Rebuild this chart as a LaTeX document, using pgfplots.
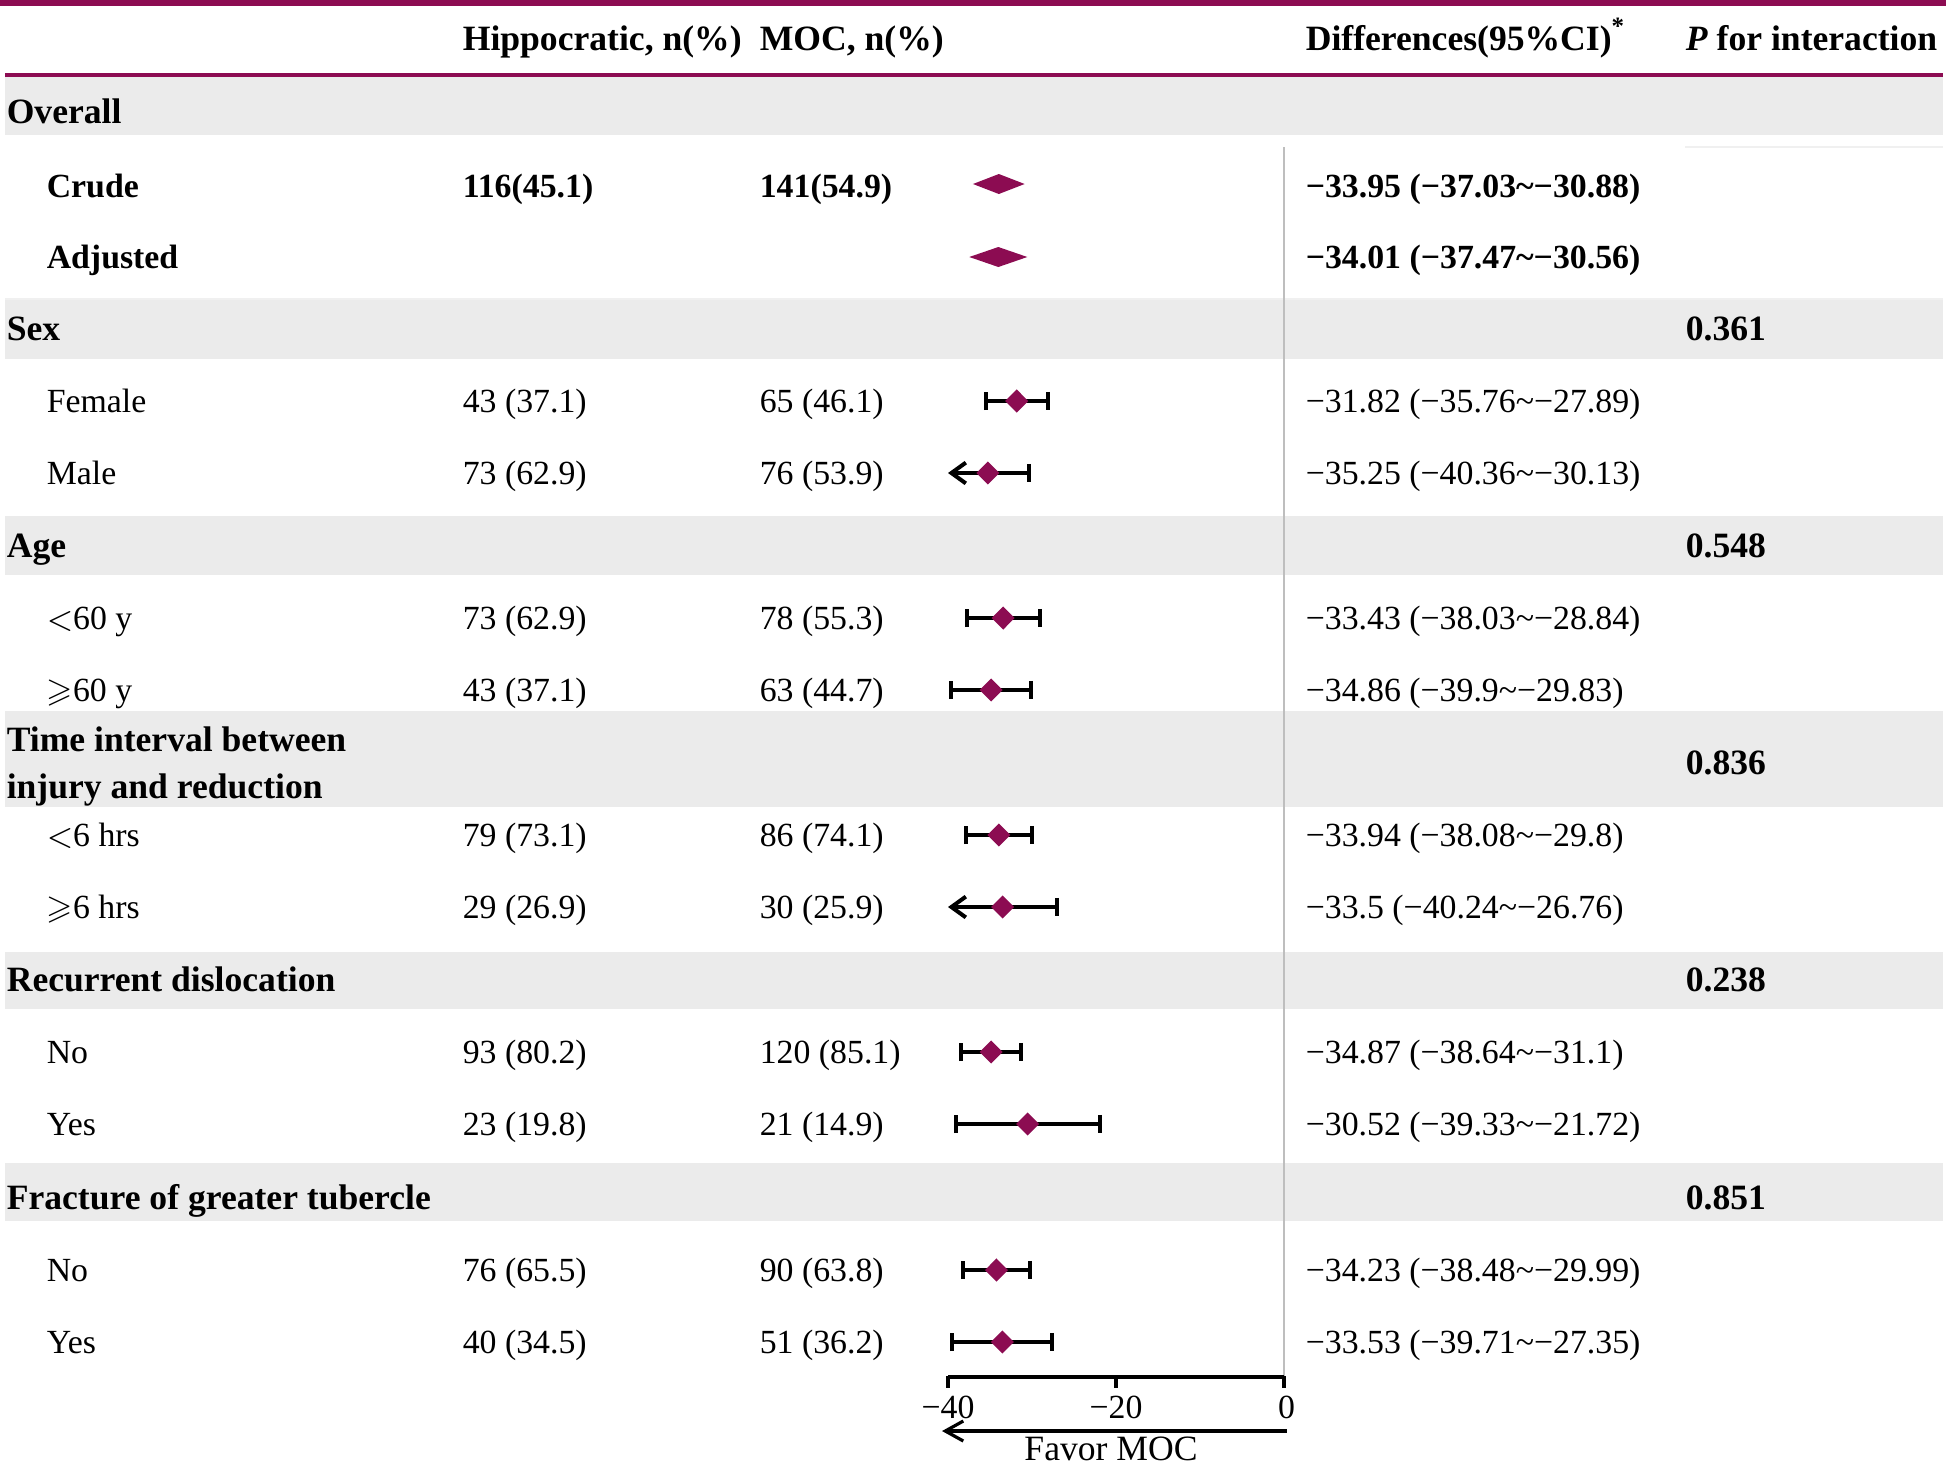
\documentclass[border=0pt]{standalone}
\usepackage{fontspec}
\setmainfont{Liberation Serif}
\usepackage{amssymb}
\usepackage{pgfplots}
\pgfplotsset{compat=1.18}
\usetikzlibrary{arrows.meta}
\definecolor{wine}{RGB}{140,12,82}
\definecolor{band}{RGB}{235,235,235}
\definecolor{vline}{RGB}{190,190,190}
\newcommand{\fs}{\fontsize{8.9}{10.5}\selectfont}
\newcommand{\fr}{\fontsize{8.45}{10}\selectfont}
\newcommand{\ti}{\textasciitilde}
\newcommand{\lsym}{$<$}
\newcommand{\gsym}{$\geqslant$}
\begin{document}
\begin{tikzpicture}[x=0.25pt,y=-0.25pt,every node/.style={font=\fs,inner sep=0pt}]
\useasboundingbox (0,0) rectangle (1946,1468);
% shaded bands
\fill[band] (5,77) rectangle (1943,135);
\fill[band] (5,300) rectangle (1943,359);
\fill[band] (5,516) rectangle (1943,575);
\fill[band] (5,711) rectangle (1943,807);
\fill[band] (5,952) rectangle (1943,1009);
\fill[band] (5,1163) rectangle (1943,1221);
% rules
\fill[wine] (0,0) rectangle (1946,6);
\fill[wine] (5,73) rectangle (1943,77);
\draw[black!6, line width=0.4pt] (1685,147) -- (1943,147);
\draw[black!6, line width=0.4pt] (5,299) -- (1943,299);
% main data axis
\begin{axis}[at={(0,0)}, anchor=north west, scale only axis,
  width=486.5pt, height=367pt,
  xmin=-152.857, xmax=78.810, ymin=-1468, ymax=0,
  axis lines=none, clip=false]
\addplot[vline, line width=0.7pt] coordinates {(0,-147) (0,-1377)};
% scale
\addplot[black, line width=0.8pt] coordinates {(-40,-1377) (0,-1377)};
\addplot[black, line width=0.8pt] coordinates {(-40,-1376) (-40,-1388)};
\addplot[black, line width=0.8pt] coordinates {(-20,-1376) (-20,-1388)};
\addplot[black, line width=0.8pt] coordinates {(0,-1376) (0,-1388)};
\node[anchor=base, font=\fr] at (axis cs:-40,-1418) {−40};
\node[anchor=base, font=\fr] at (axis cs:-20,-1418) {−20};
\node[anchor=base, font=\fr] at (axis cs:0.3,-1418) {0};
% overall diamonds (span the CI)
\addplot[wine, fill=wine, draw=none] coordinates {(-37.03,-184) (-33.95,-174) (-30.88,-184) (-33.95,-194)} -- cycle;
\addplot[wine, fill=wine, draw=none] coordinates {(-37.47,-257) (-34.01,-247) (-30.56,-257) (-34.01,-267)} -- cycle;
% subgroup CIs
\pgfplotsset{ci/.style={black, line width=1pt, arrows={Bar[width=4.6pt]-Bar[width=4.6pt]}},
             cil/.style={black, line width=1pt, arrows={Straight Barb[length=3.6pt,width=5.2pt]-Bar[width=4.6pt]}}}
\addplot[ci]  coordinates {(-35.76,-401) (-27.89,-401)};
\addplot[cil] coordinates {(-40,-473) (-30.13,-473)};
\addplot[ci]  coordinates {(-38.03,-618) (-28.84,-618)};
\addplot[ci]  coordinates {(-39.9,-690) (-29.83,-690)};
\addplot[ci]  coordinates {(-38.08,-835) (-29.8,-835)};
\addplot[cil] coordinates {(-40,-907) (-26.76,-907)};
\addplot[ci]  coordinates {(-38.64,-1052) (-31.1,-1052)};
\addplot[ci]  coordinates {(-39.33,-1124) (-21.72,-1124)};
\addplot[ci]  coordinates {(-38.48,-1270) (-29.99,-1270)};
\addplot[ci]  coordinates {(-39.71,-1342) (-27.35,-1342)};
\addplot[only marks, mark=diamond*, mark size=2.6pt, mark options={wine, fill=wine, draw=none, xscale=1.33}]
  coordinates {(-31.82,-401) (-35.25,-473) (-33.43,-618) (-34.86,-690) (-33.94,-835)
               (-33.5,-907) (-34.87,-1052) (-30.52,-1124) (-34.23,-1270) (-33.53,-1342)};
\end{axis}
\draw[line width=0.8pt, arrows={Straight Barb[length=4.5pt,width=5pt]-}] (942,1431) -- (1287,1431);
\node[anchor=base] at (1111,1460) {Favor MOC};
% header
\node[anchor=base west] at (462,50) {\textbf{Hippocratic, n(\%)}};
\node[anchor=base west] at (759,50) {\textbf{MOC, n(\%)}};
\node[anchor=base west] at (1305,50) {\textbf{Differences(95\%CI)\textsuperscript{*}}};
\node[anchor=base west] at (1685,50) {\textbf{\textit{P} for interaction}};
% section headers
\node[anchor=base west] at (6,123) {\textbf{Overall}};
\node[anchor=base west] at (6,340) {\textbf{Sex}};
\node[anchor=base west] at (6,557) {\textbf{Age}};
\node[anchor=base west] at (6,751) {\textbf{Time interval between}};
\node[anchor=base west] at (6,798) {\textbf{injury and reduction}};
\node[anchor=base west] at (6,991) {\textbf{Recurrent dislocation}};
\node[anchor=base west] at (6,1209) {\textbf{Fracture of greater tubercle}};
% p values
\node[anchor=base west] at (1685,340) {\textbf{0.361}};
\node[anchor=base west] at (1685,557) {\textbf{0.548}};
\node[anchor=base west] at (1685,774) {\textbf{0.836}};
\node[anchor=base west] at (1685,991) {\textbf{0.238}};
\node[anchor=base west] at (1685,1209) {\textbf{0.851}};
% rows
\begin{scope}[every node/.style={font=\fr,inner sep=0pt}]
\node[anchor=base west] at (46,197) {\textbf{Crude}};
\node[anchor=base west] at (462,197) {\textbf{116(45.1)}};
\node[anchor=base west] at (759,197) {\textbf{141(54.9)}};
\node[anchor=base west] at (1305,197) {\textbf{−33.95 (−37.03\ti−30.88)}};
\node[anchor=base west] at (46,268) {\textbf{Adjusted}};
\node[anchor=base west] at (1305,268) {\textbf{−34.01 (−37.47\ti−30.56)}};
\foreach \y/\a/\b/\c/\d in {
  412/Female/43 (37.1)/65 (46.1)/−31.82 (−35.76\ti−27.89),
  484/Male/73 (62.9)/76 (53.9)/−35.25 (−40.36\ti−30.13),
  629/\lsym 60 y/73 (62.9)/78 (55.3)/−33.43 (−38.03\ti−28.84),
  701/\gsym 60 y/43 (37.1)/63 (44.7)/−34.86 (−39.9\ti−29.83),
  846/\lsym 6 hrs/79 (73.1)/86 (74.1)/−33.94 (−38.08\ti−29.8),
  918/\gsym 6 hrs/29 (26.9)/30 (25.9)/−33.5 (−40.24\ti−26.76),
  1063/No/93 (80.2)/120 (85.1)/−34.87 (−38.64\ti−31.1),
  1135/Yes/23 (19.8)/21 (14.9)/−30.52 (−39.33\ti−21.72),
  1281/No/76 (65.5)/90 (63.8)/−34.23 (−38.48\ti−29.99),
  1353/Yes/40 (34.5)/51 (36.2)/−33.53 (−39.71\ti−27.35)}{
  \node[anchor=base west] at (46,\y) {\a};
  \node[anchor=base west] at (462,\y) {\b};
  \node[anchor=base west] at (759,\y) {\c};
  \node[anchor=base west] at (1305,\y) {\d};
}
\end{scope}
\end{tikzpicture}
\end{document}
